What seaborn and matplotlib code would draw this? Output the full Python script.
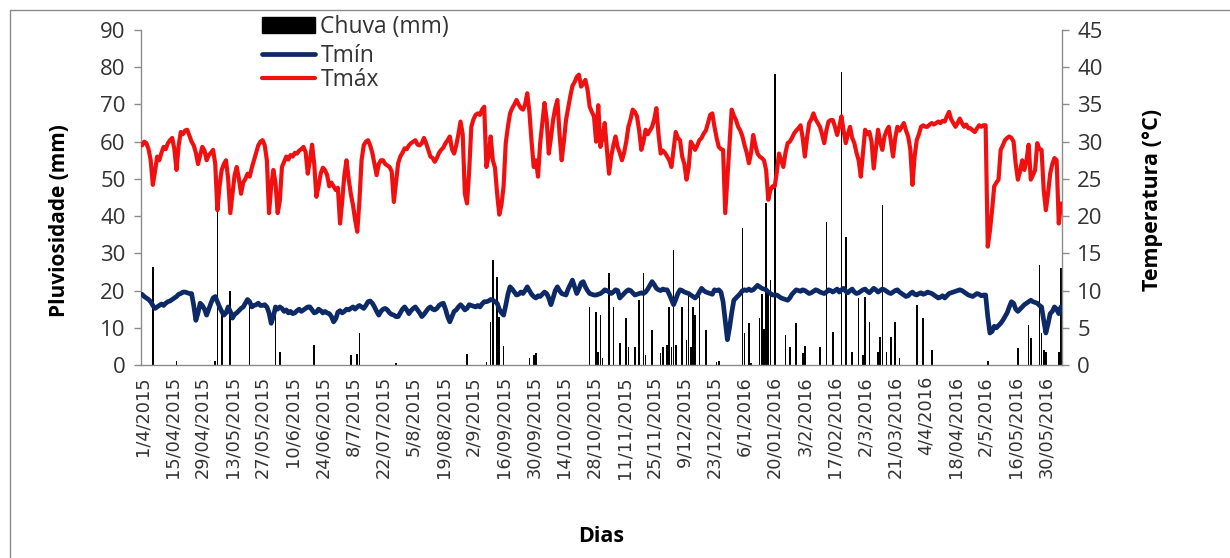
import numpy as np
import matplotlib
matplotlib.use("Agg")
import matplotlib.pyplot as plt
import seaborn as sns
from matplotlib.patches import Rectangle, Patch
from matplotlib.lines import Line2D
from matplotlib.ticker import FixedLocator, MultipleLocator

# ---------------- data ----------------
tick_labels = ["1/4/2015", "15/04/2015", "29/04/2015", "13/05/2015", "27/05/2015",
               "10/6/2015", "24/06/2015", "8/7/2015", "22/07/2015", "5/8/2015",
               "19/08/2015", "2/9/2015", "16/09/2015", "30/09/2015", "14/10/2015",
               "28/10/2015", "11/11/2015", "25/11/2015", "9/12/2015", "23/12/2015",
               "6/1/2016", "20/01/2016", "3/2/2016", "17/02/2016", "2/3/2016",
               "21/03/2016", "4/4/2016", "18/04/2016", "2/5/2016", "16/05/2016",
               "30/05/2016"]

tmax = [
    29.5, 30.0, 29.8, 29.0, 27.5, 24.2, 26.0, 28.0, 27.5, 28.5, 29.3, 29.0, 29.8, 30.2,
    30.5, 29.0, 26.2, 29.5, 31.3, 31.0, 31.5, 31.6, 30.8, 30.0, 29.5, 28.5, 27.0, 28.2,
    29.3, 28.8, 27.5, 28.2, 28.5, 28.9, 27.0, 20.8, 24.0, 26.2, 27.0, 27.5, 25.0, 20.4,
    23.0, 25.5, 26.6, 25.0, 23.0, 24.5, 25.0, 25.7, 25.3, 26.5, 27.5, 28.5, 29.5, 30.0,
    30.2, 29.5, 27.5, 20.4, 24.0, 26.2, 24.5, 20.4, 22.0, 26.6, 27.3, 28.0, 27.6, 28.2,
    28.0, 28.5, 28.4, 28.8, 29.0, 29.3, 28.6, 25.7, 27.5, 29.6, 27.0, 22.6, 24.0, 25.7,
    26.5, 26.2, 25.5, 24.0, 24.5, 24.0, 23.5, 23.8, 19.0, 22.0, 25.5, 27.5, 25.0, 23.0,
    21.5, 19.5, 17.9, 22.0, 27.5, 29.5, 30.0, 30.2, 29.5, 28.5, 27.0, 25.5, 27.0, 27.5,
    27.5, 27.0, 26.8, 26.6, 26.0, 21.9, 24.5, 27.1, 28.0, 28.5, 29.1, 29.0, 29.5, 29.8,
    30.0, 30.2, 29.6, 29.5, 29.8, 30.5, 29.8, 28.9, 28.0, 27.8, 27.3, 27.8, 28.5, 28.9,
    29.2, 29.8, 30.2, 30.7, 29.0, 28.4, 29.5, 31.0, 32.7, 31.0, 23.0, 21.7, 26.0, 32.0,
    33.0, 33.6, 33.8, 33.6, 34.3, 34.7, 26.6, 28.0, 30.7, 27.5, 26.5, 23.0, 20.2, 21.5,
    24.0, 29.8, 32.0, 33.8, 34.5, 35.0, 35.6, 35.0, 34.5, 34.3, 35.0, 36.5, 34.0, 30.0,
    26.6, 27.5, 25.3, 29.8, 32.5, 35.2, 33.0, 28.4, 30.5, 32.9, 34.5, 35.6, 31.0, 27.5,
    30.0, 32.9, 34.5, 36.1, 37.5, 38.0, 38.7, 39.0, 37.4, 37.8, 38.3, 37.0, 34.7, 34.0,
    33.4, 30.0, 34.9, 29.3, 30.5, 32.5, 29.0, 25.7, 28.0, 29.5, 30.7, 29.3, 28.5, 27.5,
    28.5, 30.0, 32.0, 33.0, 34.3, 34.0, 33.4, 31.5, 28.9, 30.0, 31.6, 31.0, 31.5, 32.0,
    33.0, 34.5, 31.0, 28.4, 28.8, 28.5, 28.0, 27.5, 26.6, 29.0, 31.3, 30.5, 30.2, 28.0,
    27.0, 24.9, 26.5, 30.0, 29.5, 28.9, 29.5, 30.2, 30.5, 31.1, 31.5, 32.5, 33.6, 33.8,
    32.0, 30.5, 29.3, 29.0, 28.9, 20.4, 25.0, 29.8, 34.3, 33.5, 32.9, 32.0, 31.5, 30.7,
    29.5, 28.5, 27.1, 28.5, 30.9, 29.5, 28.4, 28.0, 27.8, 27.5, 26.2, 22.2, 23.5, 24.0,
    24.0, 26.0, 28.4, 27.5, 26.6, 28.5, 29.8, 30.0, 30.5, 31.1, 31.5, 31.8, 32.2, 30.5,
    28.0, 30.5, 32.5, 33.0, 33.8, 33.0, 32.5, 32.0, 31.0, 29.8, 31.5, 32.7, 32.9, 32.9,
    32.0, 30.9, 32.0, 33.4, 31.5, 29.8, 31.0, 32.0, 30.5, 29.8, 28.5, 27.5, 25.3, 28.5,
    31.6, 31.0, 31.3, 30.0, 26.4, 29.0, 31.6, 30.0, 28.9, 30.7, 31.5, 32.0, 30.0, 28.0,
    30.5, 32.0, 31.5, 32.0, 32.5, 31.5, 30.7, 29.0, 24.2, 28.0, 30.2, 31.0, 32.0, 32.2,
    32.0, 32.0, 32.3, 32.5, 32.3, 32.5, 32.7, 32.5, 32.8, 32.7, 33.4, 34.0, 33.0, 32.5,
    32.0, 32.5, 33.1, 32.5, 32.0, 32.3, 31.8, 31.8, 31.5, 31.3, 31.8, 32.2, 32.0, 32.2,
    32.2, 15.9, 18.0, 20.8, 24.0, 24.5, 24.9, 28.9, 29.5, 30.2, 30.5, 30.7, 30.5, 30.0,
    27.0, 24.9, 26.0, 27.5, 26.2, 27.5, 29.6, 24.9, 25.5, 26.2, 29.8, 29.0, 28.9, 23.5,
    20.8, 23.0, 25.7, 27.0, 27.8, 27.5, 19.0, 21.7,
]

tmin = [
    9.5, 9.2, 9.0, 8.8, 8.5, 8.0, 7.6, 7.8, 8.0, 8.2, 8.0, 8.3, 8.5, 8.6,
    8.8, 9.0, 9.2, 9.5, 9.6, 9.8, 9.8, 9.7, 9.6, 9.6, 8.0, 6.0, 7.0, 8.3,
    8.0, 7.5, 6.7, 7.5, 8.3, 9.0, 9.2, 8.5, 7.8, 7.2, 6.7, 7.0, 7.8, 7.2,
    6.3, 6.8, 7.0, 7.3, 7.6, 7.8, 8.3, 8.8, 8.5, 7.8, 8.0, 8.1, 8.3, 8.0,
    8.0, 8.1, 7.8, 7.0, 5.6, 6.5, 7.8, 7.5, 7.8, 7.6, 7.2, 7.4, 7.0, 7.2,
    6.9, 7.0, 7.3, 7.5, 7.2, 7.4, 7.6, 7.8, 7.8, 7.4, 7.0, 7.1, 7.5, 7.3,
    7.0, 7.2, 7.0, 6.9, 6.5, 5.8, 6.2, 7.1, 7.3, 7.0, 7.2, 7.5, 7.4, 7.6,
    7.8, 7.5, 7.8, 8.0, 7.8, 7.6, 8.0, 8.5, 8.6, 8.3, 7.8, 7.2, 6.7, 7.2,
    7.5, 7.6, 7.4, 7.0, 6.8, 6.7, 6.5, 6.5, 7.0, 7.5, 7.8, 7.4, 6.9, 7.3,
    7.6, 7.8, 7.4, 7.0, 6.5, 6.8, 7.2, 7.6, 7.8, 7.5, 7.4, 7.6, 8.0, 8.2,
    8.3, 7.5, 6.5, 5.8, 6.5, 7.2, 7.4, 7.8, 8.1, 7.8, 7.4, 7.6, 8.1, 8.0,
    7.9, 7.8, 8.0, 7.8, 8.2, 8.5, 8.5, 8.6, 8.8, 8.7, 8.5, 8.3, 7.5, 7.0,
    6.7, 8.0, 9.5, 10.5, 10.2, 9.8, 9.4, 9.5, 9.8, 9.6, 10.0, 10.5, 10.0, 9.5,
    9.2, 9.0, 9.3, 9.2, 9.5, 9.8, 9.6, 9.0, 8.1, 9.0, 10.0, 10.5, 10.0, 9.6,
    9.5, 9.4, 10.2, 10.8, 11.4, 10.5, 9.6, 10.2, 11.0, 11.2, 10.5, 10.0, 9.6, 9.5,
    9.4, 9.4, 9.5, 9.6, 9.8, 10.1, 10.0, 9.8, 9.6, 9.8, 10.1, 10.0, 9.0, 9.3,
    9.6, 9.9, 10.1, 10.0, 9.7, 9.4, 9.5, 9.6, 9.7, 9.6, 9.8, 10.2, 10.7, 11.2,
    10.8, 10.3, 10.1, 10.0, 10.2, 10.1, 10.1, 9.5, 8.8, 8.1, 8.8, 9.6, 10.1, 10.0,
    9.8, 9.7, 9.6, 9.4, 9.2, 9.0, 9.3, 9.8, 10.3, 10.0, 9.8, 9.7, 9.6, 9.5,
    10.1, 10.0, 10.1, 9.8, 8.5, 6.0, 3.4, 5.0, 7.0, 8.7, 9.0, 9.3, 9.6, 10.0,
    10.1, 10.0, 10.2, 10.0, 10.1, 10.4, 10.7, 10.5, 10.3, 10.2, 10.1, 9.8, 9.6, 9.4,
    9.4, 9.4, 9.2, 9.0, 8.9, 8.8, 8.7, 9.0, 9.5, 9.8, 10.1, 10.0, 9.9, 10.1,
    10.0, 9.8, 9.6, 9.7, 9.9, 10.1, 10.0, 9.8, 9.7, 9.6, 9.8, 10.1, 10.0, 9.8,
    10.0, 10.2, 9.8, 10.1, 10.3, 9.9, 9.7, 10.0, 10.2, 9.8, 9.6, 9.7, 9.9, 10.1,
    10.2, 9.9, 9.7, 10.0, 10.3, 10.1, 9.8, 10.0, 10.2, 10.1, 9.9, 9.7, 9.6, 9.8,
    10.0, 10.1, 9.8, 9.6, 9.4, 9.2, 9.3, 9.6, 9.8, 9.5, 9.4, 9.6, 9.7, 9.5,
    9.6, 9.8, 9.7, 9.6, 9.4, 9.2, 9.0, 9.1, 9.3, 9.0, 9.3, 9.6, 9.7, 9.8,
    9.9, 10.0, 10.1, 10.0, 9.8, 9.6, 9.4, 9.3, 9.2, 9.4, 9.6, 9.5, 9.3, 9.4,
    9.4, 6.5, 4.3, 4.5, 5.2, 5.0, 5.3, 5.6, 6.0, 6.5, 7.0, 7.8, 8.5, 8.3,
    7.5, 7.2, 7.5, 7.8, 8.1, 8.3, 8.5, 8.7, 8.5, 8.4, 8.3, 8.0, 7.8, 6.0,
    4.3, 5.5, 6.9, 7.2, 7.8, 7.5, 6.9, 7.8,
]

rain_days = [5, 16, 34, 35, 37, 41, 50, 62, 64, 80, 97, 100, 101, 118, 151,
             160, 162, 163, 165, 166, 168, 180, 182, 183, 208, 211, 212, 213, 214,
             217, 219, 222, 225, 226, 229, 231, 233, 234, 237, 241, 242, 244, 245,
             246, 247, 248, 251, 253, 254, 255, 256, 257, 259, 262, 267, 268, 279,
             280, 282, 283, 287, 288, 289, 290, 291, 292, 294, 299, 301, 304, 307,
             308, 315, 318, 321, 325, 327, 330, 333, 335, 336, 338, 342, 343, 344,
             346, 348, 350, 352, 360, 363, 367, 393, 407, 412, 413, 417, 418, 419,
             420, 426, 427]
rain_mm = [26.4, 1.0, 1.0, 41.0, 13.9, 20.0, 16.5, 15.7, 3.6, 5.4, 2.7, 3.0, 8.5, 0.5, 3.0,
           0.9, 11.6, 28.2, 23.7, 13.0, 5.0, 1.8, 2.7, 3.1, 15.7, 14.3, 3.6, 13.4, 1.8,
           24.6, 15.7, 5.8, 12.5, 4.9, 4.9, 17.5, 24.6, 2.7, 9.4, 3.1, 4.9, 5.4, 15.7,
           4.9, 30.9, 5.4, 15.7, 6.7, 19.2, 4.9, 15.7, 13.4, 19.2, 9.4, 0.9, 1.1, 36.7,
           8.5, 11.2, 0.5, 12.5, 19.2, 9.8, 43.4, 19.7, 22.8, 78.3, 8.0, 4.9, 11.2, 3.1,
           5.1, 4.9, 38.5, 9.0, 78.8, 34.5, 3.6, 17.9, 2.7, 18.4, 11.6, 3.6, 7.6, 43.0,
           3.6, 7.6, 11.6, 1.8, 16.1, 12.5, 4.0, 1.0, 4.5, 10.7, 7.2, 26.9, 8.5, 4.0,
           3.6, 3.6, 26.0]

N = len(tmax)
assert N == len(tmin) == 428, (len(tmax), len(tmin))
assert len(rain_days) == len(rain_mm), (len(rain_days), len(rain_mm))
days = np.arange(N)
rain = np.zeros(N)
rain[np.array(rain_days)] = rain_mm

# ---------------- style ----------------
sns.set_style("white")
plt.rcParams["font.family"] = ["Open Sans", "DejaVu Sans"]

W, H = 1230, 558
fig = plt.figure(figsize=(W / 100, H / 100), dpi=100)
L, R, T, B = 141, 1062, 30, 365
ax = fig.add_axes([L / W, 1 - B / H, (R - L) / W, (B - T) / H])

axis_gray = "#8c8c8c"
text_col = "#333333"
red = "#f01010"
navy = "#0d2a66"

sns.barplot(x=days, y=rain, ax=ax, color="black", width=0.75, saturation=1,
            native_scale=True, errorbar=None, linewidth=0, zorder=2)
ax.set_xlim(-0.5, N - 0.5)
ax.set_ylim(0, 90)

ax2 = ax.twinx()
sns.lineplot(x=days, y=tmin, ax=ax2, color=navy, linewidth=3.4, zorder=3)
sns.lineplot(x=days, y=tmax, ax=ax2, color=red, linewidth=3.0, zorder=3)
ax2.set_ylim(0, 45)
ax2.set_xlim(-0.5, N - 0.5)

# spines
for a in (ax, ax2):
    a.spines["top"].set_visible(False)
    for s in a.spines.values():
        s.set_color(axis_gray)
        s.set_linewidth(1.0)
ax.spines["right"].set_visible(False)
ax2.spines["left"].set_visible(False)
ax2.spines["bottom"].set_visible(False)

# ticks
ax.yaxis.set_major_locator(MultipleLocator(10))
ax2.yaxis.set_major_locator(MultipleLocator(5))
ax.tick_params(axis="y", direction="out", length=5, width=1, color=axis_gray,
               labelsize=16, labelcolor=text_col, pad=6)
ax2.tick_params(axis="y", direction="out", length=5, width=1, color=axis_gray,
                labelsize=16, labelcolor=text_col, pad=6)
major_pos = np.arange(len(tick_labels)) * 14
ax.xaxis.set_major_locator(FixedLocator(major_pos))
ax.xaxis.set_minor_locator(MultipleLocator(1))
ax.set_xticklabels(tick_labels, rotation=90, fontsize=12.8, color=text_col)
for t in ax.get_xticklabels():
    t.set_fontfamily("DejaVu Sans")
ax.tick_params(axis="x", which="both", direction="out", length=5, width=0.8,
               color=axis_gray, pad=3)
ax2.tick_params(axis="x", which="both", length=0, labelbottom=False)

# labels
ax.set_xlabel("Dias", fontsize=15.5, fontweight="bold", color="black")
ax.set_ylabel("Pluviosidade (mm)", fontsize=15, fontweight="bold", color="black")
ax2.set_ylabel("Temperatura (°C)", fontsize=15.5, fontweight="bold", color="black")
ax.xaxis.set_label_coords((601 - L) / (R - L), (B - 526) / (B - T))
ax.yaxis.set_label_coords((70 - L) / (R - L), (B - 221) / (B - T))
ax2.yaxis.set_label_coords((1142 - L) / (R - L), (B - 200) / (B - T))

# legend (two blocks, as in the original layout)
leg_kw = dict(loc="center left", frameon=False, fontsize=16.5, handlelength=2.3,
              handleheight=0.7, handletextpad=0.25, labelspacing=0.0,
              borderpad=0, borderaxespad=0, labelcolor=text_col)
fig.legend([Patch(facecolor="black", edgecolor="black")], ["Chuva (mm)"],
           bbox_to_anchor=(262 / W, 1 - 27 / H), **leg_kw)
fig.legend([Line2D([], [], color=navy, lw=3.4), Line2D([], [], color=red, lw=3.0)],
           ["Tmín", "Tmáx"], bbox_to_anchor=(262 / W, 1 - 68.5 / H), **leg_kw)

# outer chart border
fig.patches.append(Rectangle((9.5 / W, -0.05), 1.2, 1 - 10 / H + 0.05,
                             transform=fig.transFigure, fill=False,
                             edgecolor="#8a8a8a", linewidth=1.0))

fig.savefig("out.png", dpi=100, facecolor="white")
